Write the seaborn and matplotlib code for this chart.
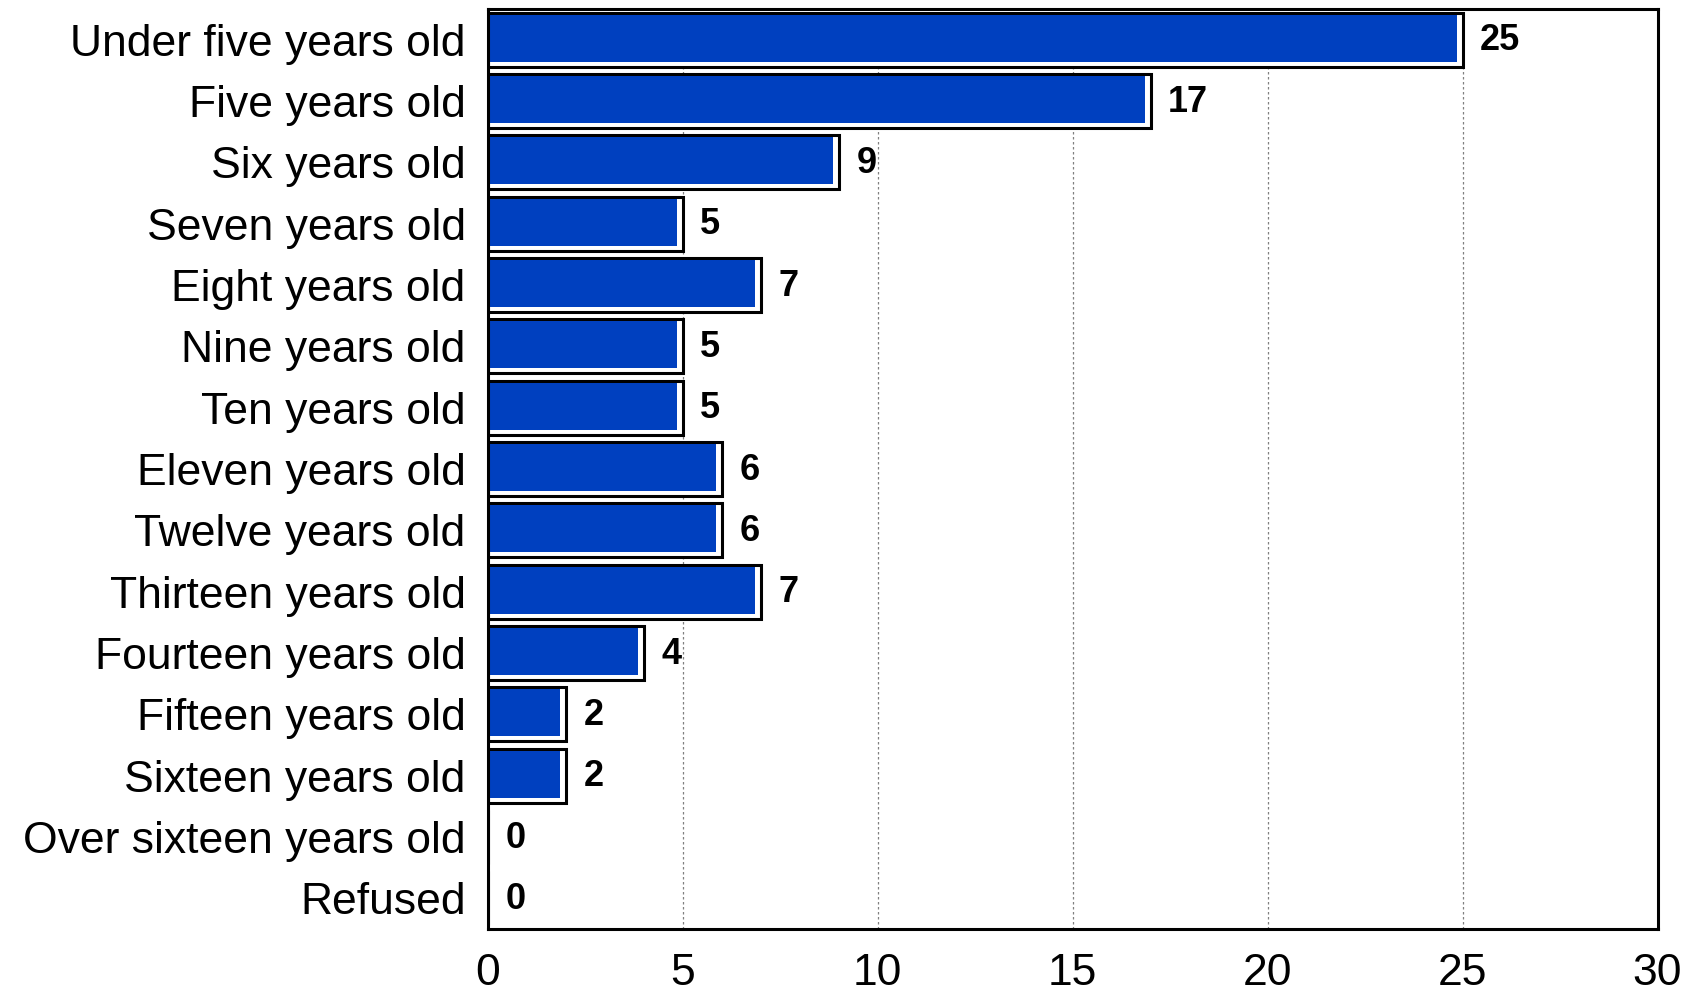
import matplotlib
matplotlib.use("Agg")
import matplotlib.pyplot as plt
import seaborn as sns
import pandas as pd

categories = [
    "Under five years old", "Five years old", "Six years old", "Seven years old",
    "Eight years old", "Nine years old", "Ten years old", "Eleven years old",
    "Twelve years old", "Thirteen years old", "Fourteen years old",
    "Fifteen years old", "Sixteen years old", "Over sixteen years old", "Refused",
]
counts = [25, 17, 9, 5, 7, 5, 5, 6, 6, 7, 4, 2, 2, 0, 0]
x_ticks = [0, 5, 10, 15, 20, 25, 30]

BLUE = "#0040BF"

sns.set_theme(style="white")
plt.rcParams["font.family"] = ["Liberation Sans", "DejaVu Sans"]

df = pd.DataFrame({"category": categories, "count": counts})

fig = plt.figure(figsize=(17, 9.93), dpi=100)
ax = fig.add_axes([0.287, 0.0645, 0.688, 0.9265])

# outlined frame of each bar
sns.barplot(data=df, x="count", y="category", orient="h", color="white",
            edgecolor="black", linewidth=2.2, width=0.88, saturation=1, ax=ax)
n_frame = len(ax.patches)

# blue fill inset inside the frame, leaving a white lip on the right and bottom
sns.barplot(data=df, x="count", y="category", orient="h", color=BLUE,
            linewidth=0, width=0.88, saturation=1, ax=ax)
for p in ax.patches[n_frame:]:
    y0, h, w = p.get_y(), p.get_height(), p.get_width()
    p.set_width(max(w - 0.15, 0))
    p.set_y(y0 + 0.035)
    p.set_height(h - 0.115)
    p.set_zorder(3)
for p in ax.patches[:n_frame]:
    p.set_zorder(2)

for i, v in enumerate(counts):
    ax.text(v + 0.45, i + 0.02, str(v), va="center", ha="left",
            fontsize=26, fontweight="bold", color="black", zorder=4)

ax.set_xlim(0, 30)
ax.set_ylim(len(categories) - 0.5, -0.5)
ax.set_xticks(x_ticks)
ax.set_xticklabels([str(t) for t in x_ticks])
ax.set_xlabel("")
ax.set_ylabel("")
ax.tick_params(axis="x", labelsize=32, length=0, pad=17, colors="black")
ax.tick_params(axis="y", labelsize=32, length=0, pad=16, colors="black")

ax.xaxis.grid(True, color="#808080", linestyle=(0, (2, 2)), linewidth=0.9)
ax.yaxis.grid(False)
ax.set_axisbelow(True)

for side in ["left", "bottom", "top", "right"]:
    ax.spines[side].set_visible(True)
    ax.spines[side].set_color("black")
    ax.spines[side].set_linewidth(2.2)
    ax.spines[side].set_zorder(5)

fig.savefig("out.png", dpi=100, facecolor="white")
